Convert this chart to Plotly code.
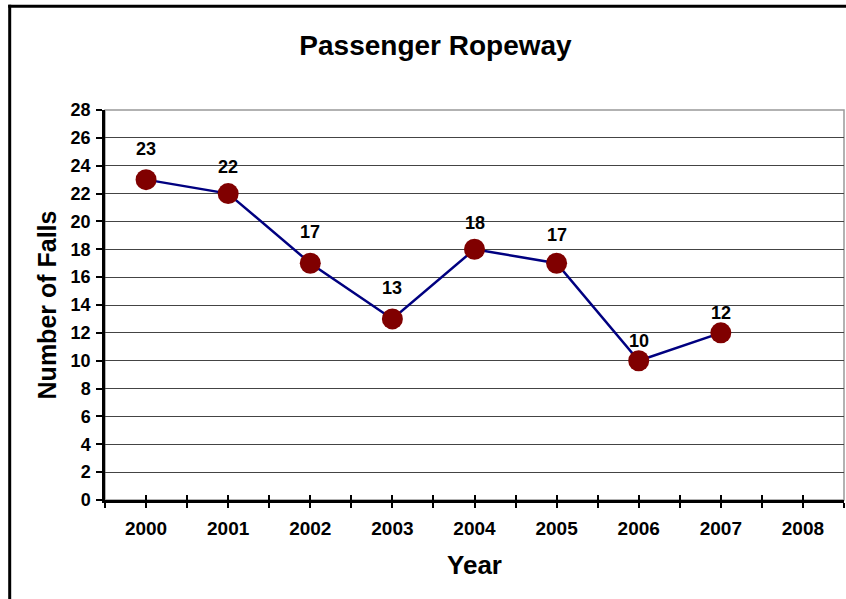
import plotly.graph_objects as go

years = [2000, 2001, 2002, 2003, 2004, 2005, 2006, 2007]
falls = [23, 22, 17, 13, 18, 17, 10, 12]
x_categories = [2000, 2001, 2002, 2003, 2004, 2005, 2006, 2007, 2008]
y_ticks = list(range(0, 29, 2))

# label offsets above each marker (pixels), style only
label_shift = [31, 27, 31, 31, 26, 28, 20, 20]

FONT = "Arial, 'Liberation Sans', sans-serif"

fig = go.Figure()

fig.add_trace(go.Scatter(
    x=years, y=falls, mode="lines+markers",
    line=dict(color="#000080", width=2.5),
    marker=dict(color="#800000", size=21, line=dict(width=0)),
    hoverinfo="x+y", showlegend=False,
))
# invisible helper trace so the overlay axis (inside tick half of cross ticks) is drawn
fig.add_trace(go.Scatter(
    x=years, y=falls, mode="lines", line=dict(width=0), opacity=0,
    xaxis="x2", hoverinfo="skip", showlegend=False,
))

for x, y, s in zip(years, falls, label_shift):
    fig.add_annotation(
        x=x, y=y, text=str(y), showarrow=False, yshift=s,
        font=dict(family=FONT, size=18, color="black", weight="bold"),
    )

tickvals = []
ticktext = []
for c in x_categories:
    tickvals += [c - 0.5, c]
    ticktext += ["", str(c)]
tickvals.append(x_categories[-1] + 0.5)
ticktext.append("")

xr = [x_categories[0] - 0.5, x_categories[-1] + 0.5]

frame_x = (9.7 - 105) / 739
frame_y = (500 - 6.2) / 390

fig.update_layout(
    width=846, height=599,
    margin=dict(l=105, r=2, t=110, b=99),
    paper_bgcolor="white", plot_bgcolor="white",
    font=dict(family=FONT, color="black"),
    title=dict(
        text="Passenger Ropeway", x=435.5 / 846, xanchor="center",
        y=1 - 45 / 599, yanchor="middle",
        font=dict(family=FONT, size=28, color="black", weight="bold"),
    ),
    xaxis=dict(
        range=xr, tickmode="array", tickvals=tickvals, ticktext=ticktext,
        ticks="outside", ticklen=5, tickwidth=2, tickcolor="black",
        showline=True, linecolor="black", linewidth=2.5,
        showgrid=False, zeroline=False,
        tickfont=dict(family=FONT, size=19, color="black", weight="bold"),
        ticklabelstandoff=4,
        title=dict(text="Year", standoff=19,
                   font=dict(family=FONT, size=26, color="black", weight="bold")),
        fixedrange=True,
    ),
    xaxis2=dict(
        range=xr, overlaying="x", anchor="y", side="bottom",
        tickmode="array", tickvals=tickvals, ticktext=[""] * len(tickvals),
        ticks="inside", ticklen=5, tickwidth=2, tickcolor="black",
        showline=False, showgrid=False, zeroline=False, showticklabels=False,
    ),
    yaxis=dict(
        range=[0, 28], tickmode="array", tickvals=y_ticks,
        ticks="outside", ticklen=6, tickwidth=2, tickcolor="black",
        showline=True, linecolor="black", linewidth=2.5,
        showgrid=True, gridcolor="#444444", gridwidth=1, zeroline=False,
        tickfont=dict(family=FONT, size=18, color="black", weight="bold"),
        ticklabelstandoff=2,
        title=dict(text="Number of Falls", standoff=7,
                   font=dict(family=FONT, size=25, color="black", weight="bold")),
        fixedrange=True,
    ),
    shapes=[
        # plot area border (grey)
        dict(type="rect", xref="paper", yref="paper", x0=0, x1=1, y0=0, y1=1,
             line=dict(color="#999999", width=1.5), layer="below"),
        # outer chart frame: left edge
        dict(type="line", xref="paper", yref="paper",
             x0=frame_x, x1=frame_x, y0=-0.5, y1=frame_y + 0.004,
             line=dict(color="black", width=3), layer="above"),
        # outer chart frame: top edge
        dict(type="line", xref="paper", yref="paper",
             x0=frame_x - 0.002, x1=1.2, y0=frame_y, y1=frame_y,
             line=dict(color="black", width=3), layer="above"),
    ],
)

fig.write_html(
    "out.html",
    config={"displayModeBar": False},
    post_script="document.body.style.margin='0';document.body.style.overflow='hidden';",
)
